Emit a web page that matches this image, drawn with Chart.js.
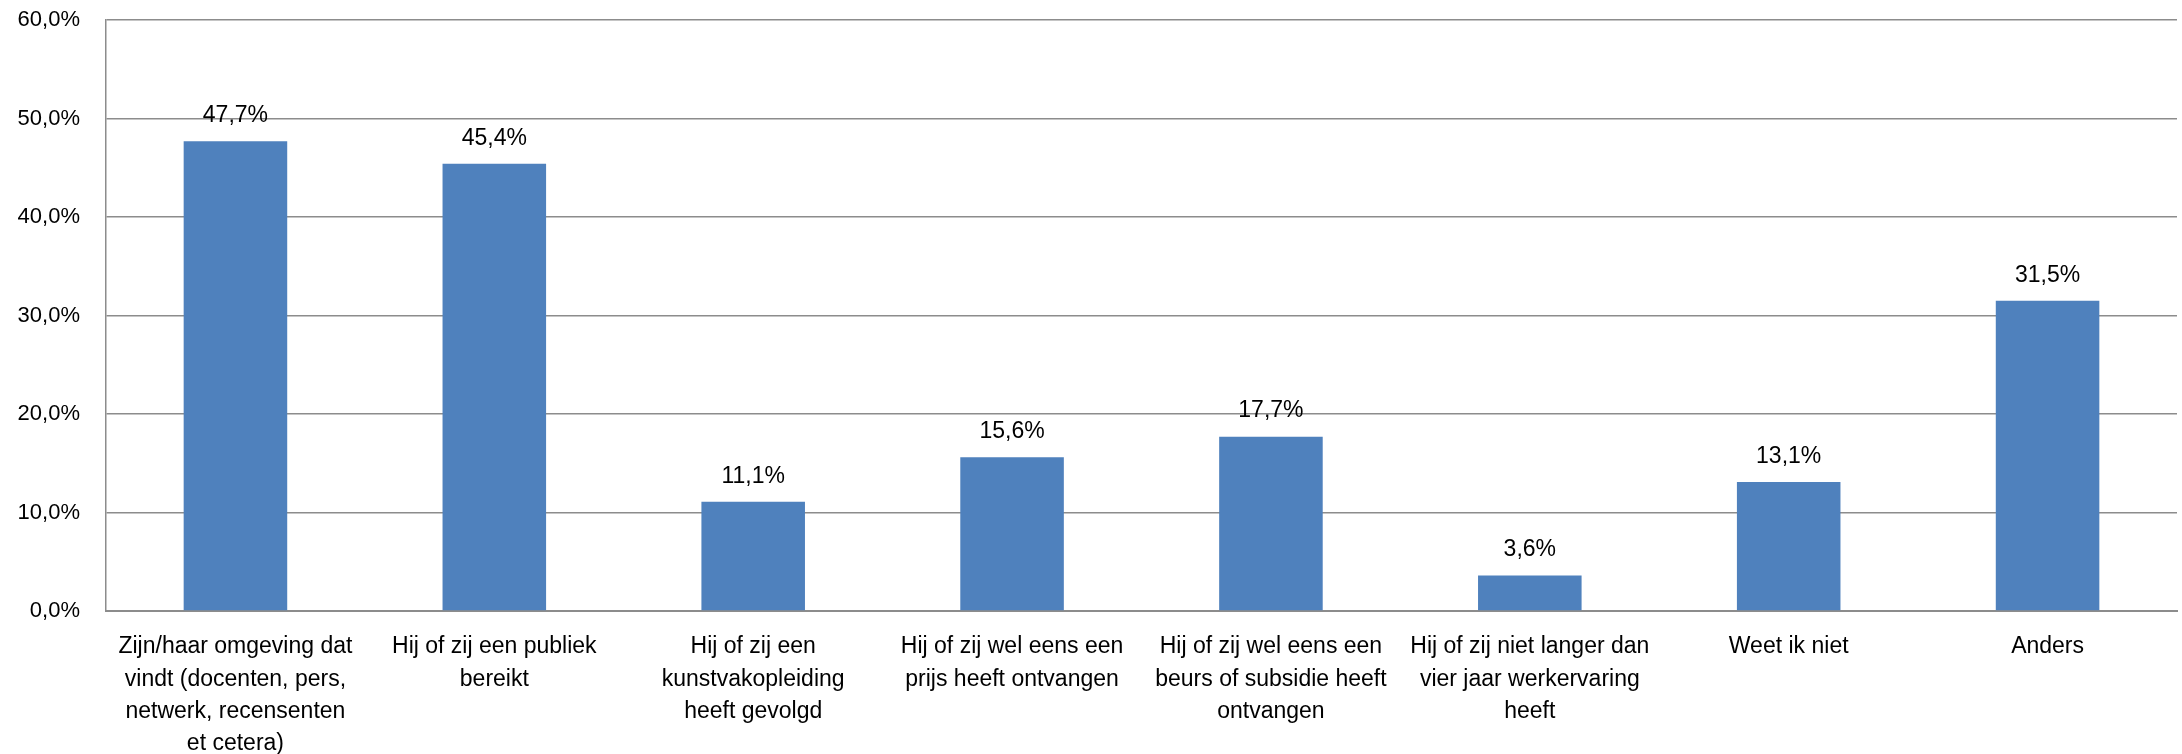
<!DOCTYPE html>
<html>
<head>
<meta charset="utf-8">
<script src="https://cdn.jsdelivr.net/npm/chart.js@4/dist/chart.umd.min.js"></script>
<style>
html,body{margin:0;padding:0;background:#fff;}
#wrap{width:2182px;height:754px;position:relative;}
</style>
</head>
<body>
<div id="wrap"><canvas id="c" width="2182" height="754"></canvas></div>
<script>
const categories = [
  ["Zijn/haar omgeving dat","vindt (docenten, pers,","netwerk, recensenten","et cetera)"],
  ["Hij of zij een publiek","bereikt"],
  ["Hij of zij een","kunstvakopleiding","heeft gevolgd"],
  ["Hij of zij wel eens een","prijs heeft ontvangen"],
  ["Hij of zij wel eens een","beurs of subsidie heeft","ontvangen"],
  ["Hij of zij niet langer dan","vier jaar werkervaring","heeft"],
  ["Weet ik niet"],
  ["Anders"]
];
const values = [47.7, 45.4, 11.1, 15.6, 17.7, 3.6, 13.1, 31.5];
const yTicks = [0, 10, 20, 30, 40, 50, 60];

const FONT = "'Liberation Sans', Arial, sans-serif";
const fmt = v => v.toFixed(1).replace('.', ',') + '%';

const labelPlugin = {
  id: 'barLabels',
  afterDatasetsDraw(chart) {
    const ctx = chart.ctx;
    const meta = chart.getDatasetMeta(0);
    ctx.save();
    ctx.font = "23px " + FONT;
    ctx.fillStyle = '#000';
    ctx.textAlign = 'center';
    ctx.textBaseline = 'bottom';
    meta.data.forEach((bar, i) => {
      ctx.fillText(fmt(values[i]), bar.x, bar.y - 14);
    });
    ctx.restore();
  }
};

new Chart(document.getElementById('c'), {
  type: 'bar',
  data: {
    labels: categories,
    datasets: [{
      data: values,
      backgroundColor: '#4F81BD',
      borderWidth: 0,
      categoryPercentage: 1.0,
      barPercentage: 0.4
    }]
  },
  options: {
    responsive: false,
    animation: false,
    devicePixelRatio: 1,
    layout: { padding: { top: 20, right: 5, left: 0, bottom: 0 } },
    plugins: { legend: { display: false }, tooltip: { enabled: false } },
    scales: {
      x: {
        grid: { display: false, drawTicks: false },
        border: { display: true, color: '#8c8c8c', width: 2 },
        ticks: {
          color: '#000',
          font: { family: FONT, size: 23, lineHeight: 1.4 },
          padding: 20,
          maxRotation: 0,
          autoSkip: false
        },
        afterFit(scale) { scale.height = 143; }
      },
      y: {
        min: 0, max: 60,
        afterBuildTicks(scale) { scale.ticks = yTicks.map(v => ({ value: v })); },
        grid: { color: '#8c8c8c', lineWidth: 1.5, drawTicks: false },
        border: { display: true, color: '#8c8c8c', width: 1.5 },
        ticks: {
          color: '#000',
          font: { family: FONT, size: 22 },
          padding: 26,
          callback: v => fmt(v)
        },
        afterFit(scale) { scale.width = 106; scale.paddingTop = 0; scale.paddingBottom = 0; }
      }
    }
  },
  plugins: [labelPlugin]
});
</script>
</body>
</html>
